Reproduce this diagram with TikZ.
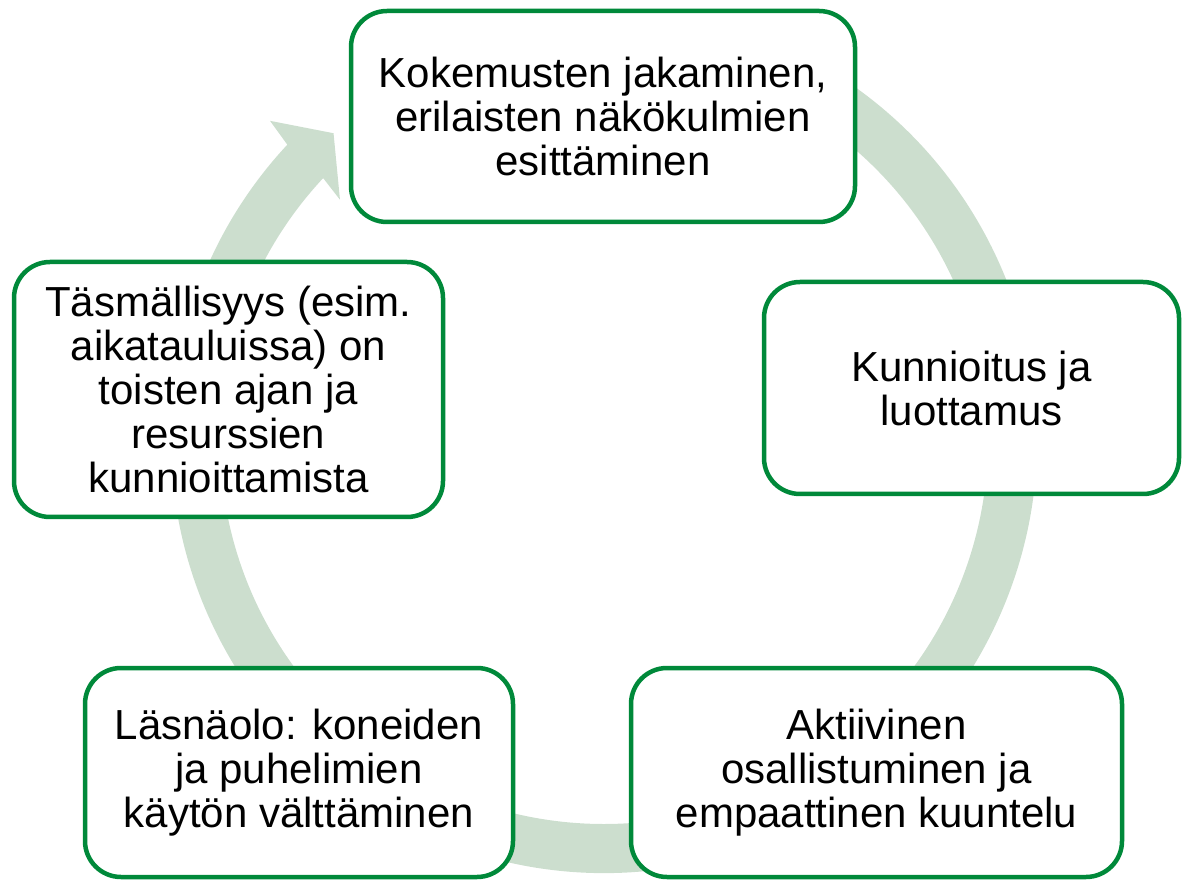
\documentclass[tikz,border=0pt]{standalone}
\usepackage{fontspec}
\setmainfont{Liberation Sans}
\definecolor{ringcol}{RGB}{204,222,206}
\definecolor{boxgreen}{RGB}{0,137,58}
\begin{document}
\begin{tikzpicture}[x=1pt,y=1pt,
  cbox/.style={draw=boxgreen, line width=4.5pt, fill=white, rounded corners=36pt,
    inner sep=0pt, align=center, text=black,
    font=\fontsize{42}{44}\selectfont}]
\useasboundingbox (0,0) rectangle (1182,881);
\coordinate (ringc) at (604,441);
% circular arrow
\begin{scope}[shift={(ringc)}]
\fill[ringcol] (70:433pt) arc[start angle=70, end angle=-223, radius=433pt]
  -- (136.3:462pt) -- (131.4:409pt) -- (137.7:357pt) -- (137:384pt)
  arc[start angle=-223, end angle=70, radius=384pt] -- cycle;
\end{scope}
% boxes
\node[cbox, minimum width=504pt, minimum height=211pt] (top) at (603,764.5)
  {Kokemusten jakaminen,\\erilaisten näkökulmien\\esittäminen};
\node[cbox, minimum width=415pt, minimum height=212pt] (right) at (971.5,493)
  {Kunnioitus ja\\luottamus};
\node[cbox, minimum width=491pt, minimum height=209pt] (bright) at (876.5,108.5)
  {Aktiivinen\\osallistuminen ja\\empaattinen kuuntelu};
\node[cbox, minimum width=428pt, minimum height=209pt] (bleft) at (299,108.5)
  {Läsnäolo: koneiden\\ja puhelimien\\käytön välttäminen};
\node[cbox, minimum width=429pt, minimum height=255pt] (left) at (228.5,491.5)
  {Täsmällisyys (esim.\\aikatauluissa) on\\toisten ajan ja\\resurssien\\kunnioittamista};
\end{tikzpicture}
\end{document}
